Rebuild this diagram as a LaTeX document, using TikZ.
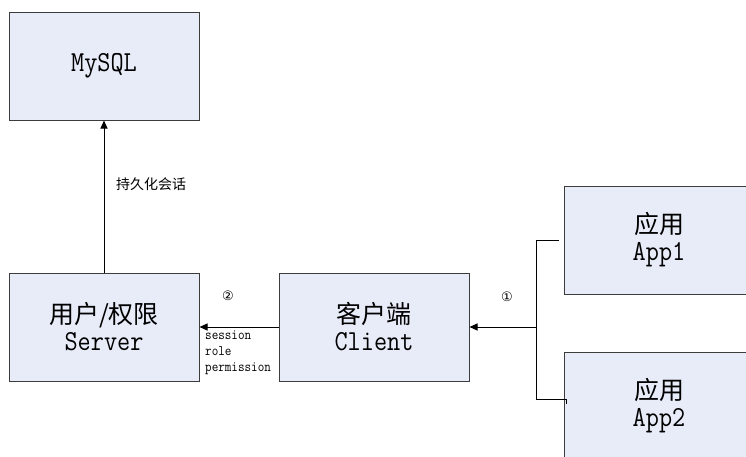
\documentclass[tikz,border=0pt]{standalone}
\usepackage{fontspec}
\usetikzlibrary{arrows.meta}
\newfontfamily\cjk{Noto Sans CJK SC}
\newfontfamily\lat[FakeStretch=0.88]{Latin Modern Mono}
\newfontfamily\sym{DejaVu Sans}
\definecolor{boxfill}{HTML}{E8ECF8}
\definecolor{boxline}{HTML}{3C3C3C}
\newcommand{\biglatin}{\lat\fontsize{29pt}{29pt}\selectfont}
\begin{document}
\begin{tikzpicture}[x=1pt,y=-1pt,
  blk/.style={draw=boxline,fill=boxfill,line width=1pt,minimum width=190pt,minimum height=108pt,inner sep=0pt,align=center},
  big/.style={font=\fontsize{25pt}{27pt}\selectfont},
  arr/.style={-{Triangle[length=8pt,width=7pt]},line width=1pt},
  wire/.style={line width=1pt}]
\useasboundingbox (0,0) rectangle (746,456);
\fill[white] (0,0) rectangle (746,456);
\clip (0,0) rectangle (746,456);
\node[blk,big] (MySQL) at (104,66) {{\biglatin MySQL}};
\node[blk,big] (Server) at (104,327) {{\cjk 用户/权限}\\[0pt]{\biglatin Server}};
\node[blk,big] (Client) at (374,327) {{\cjk 客户端}\\[0pt]{\biglatin Client}};
\node[blk,big] (App1) at (659,240) {{\cjk 应用}\\[0pt]{\biglatin App1}};
\node[blk,big] (App2) at (659,406) {{\cjk 应用}\\[0pt]{\biglatin App2}};
\draw[arr] (Server.north) -- (MySQL.south);
\node[anchor=west,inner sep=0pt,font=\cjk\fontsize{14pt}{14pt}\selectfont] (persist) at (116,184) {持久化会话};
\draw[arr] (Client.west) -- (Server.east);
\node[inner sep=0pt,font=\sym\fontsize{13pt}{13pt}\selectfont] (n2) at (228,296) {②};
\node[anchor=north west,inner sep=0pt,align=left,font=\lat\fontsize{14.5pt}{16pt}\selectfont] (sess) at (205,331) {session\\role\\permission};
\coordinate (j) at (536,327);
\coordinate (b) at (566,399);
\draw[wire] ([xshift=-5pt]App1.west) -| (j);
\draw[wire] (j) |- (b) -- ++(0,5);
\draw[arr] (j) -- (Client.east);
\node[inner sep=0pt,font=\sym\fontsize{13pt}{13pt}\selectfont] (n1) at (507,297) {①};
\end{tikzpicture}
\end{document}
